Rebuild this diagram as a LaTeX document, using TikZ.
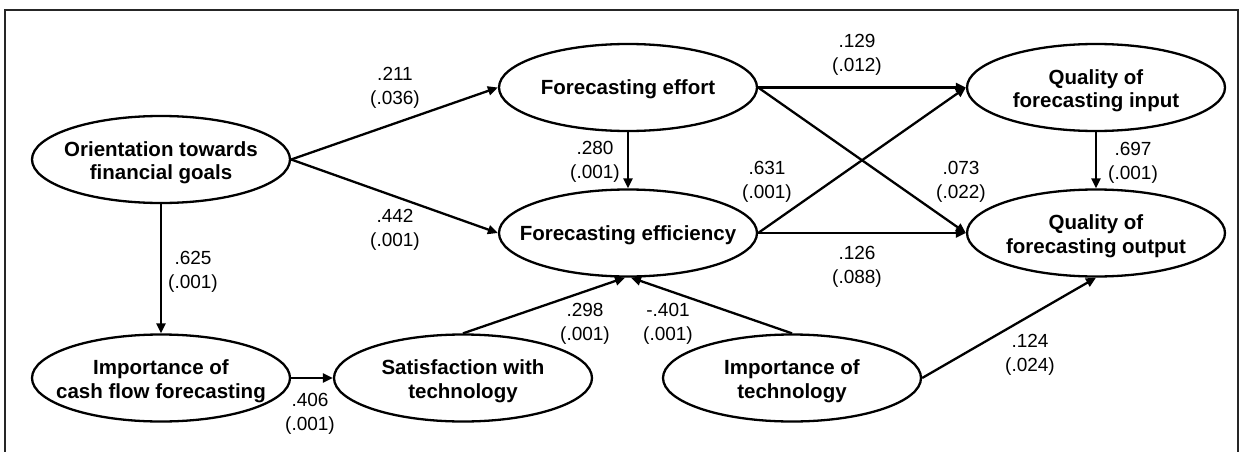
\documentclass[tikz,border=0pt]{standalone}
\usepackage{fontspec}
\setmainfont{Liberation Sans}
\usetikzlibrary{shapes.geometric,arrows.meta}
\begin{document}
\begin{tikzpicture}[x=1pt,y=-1pt,
  construct/.style={ellipse,draw,line width=2.3pt,minimum width=258pt,minimum height=87pt,
    inner sep=0pt},
  ctext/.style={align=center,inner sep=0pt,font=\fontsize{20.5}{23.5}\selectfont\bfseries},
  path/.style={line width=2.3pt,-{Triangle[length=10pt,width=9pt]}},
  coef/.style={align=center,inner sep=0pt,font=\fontsize{19}{24.5}\selectfont}]
\useasboundingbox (0,0) rectangle (1244,452);
% open frame around the model
\draw[line width=1.1pt,black!85] (5,452) -- (5,10) -- (1238,10) -- (1238,452);

% constructs (fixed-size ellipses, labels set on top)
\node[construct] (ori) at (161,159.5) {};
\node[construct] (eff) at (628,87.5) {};
\node[construct] (inp) at (1096,87.5) {};
\node[construct] (ecy) at (628,233) {};
\node[construct] (out) at (1096,233) {};
\node[construct] (cfl) at (161,378) {};
\node[construct] (sat) at (463,378) {};
\node[construct] (tec) at (792,378) {};

\node[ctext] (ori-t) at ([yshift=-3pt]ori.center) {Orientation towards\\financial goals};
\node[ctext] (eff-t) at ([yshift=-2pt]eff.center) {Forecasting effort};
\node[ctext] (inp-t) at ([yshift=-3pt]inp.center) {Quality of\\forecasting input};
\node[ctext] (ecy-t) at ([yshift=-2pt]ecy.center) {Forecasting efficiency};
\node[ctext] (out-t) at ([yshift=-3pt]out.center) {Quality of\\forecasting output};
\node[ctext] (cfl-t) at ([yshift=-3pt]cfl.center) {Importance of\\cash flow forecasting};
\node[ctext] (sat-t) at ([yshift=-3pt]sat.center) {Satisfaction with\\technology};
\node[ctext] (tec-t) at ([yshift=-3pt]tec.center) {Importance of\\technology};

% structural paths
\draw[path] (ori.east) -- (eff.west);
\draw[path] (ori.east) -- (ecy.west);
\draw[path] (ori.south) -- (cfl.north);
\draw[path] (eff.south) -- (ecy.north);
\draw[path] (eff.east) -- (inp.west);
\draw[path] (eff.east) -- (out.west);
\draw[path] (ecy.east) -- (inp.west);
\draw[path] (ecy.east) -- (out.west);
\draw[path] (inp.south) -- (out.north);
\draw[path] (cfl.east) -- (sat.west);
\draw[path] (sat.north) -- ([xshift=-3pt]ecy.south);
\draw[path] (tec.north) -- ([xshift=3pt]ecy.south);
\draw[path] (tec.east) -- (out.south);

% path coefficients (p-values)
\node[coef] (c1) at (395,88) {.211\\(.036)};
\node[coef] (c2) at (395,230) {.442\\(.001)};
\node[coef] (c3) at (193,272) {.625\\(.001)};
\node[coef] (c4) at (595,162) {.280\\(.001)};
\node[coef] (c5) at (767,182) {.631\\(.001)};
\node[coef] (c6) at (857,55) {.129\\(.012)};
\node[coef] (c7) at (961,182) {.073\\(.022)};
\node[coef] (c8) at (1133,163) {.697\\(.001)};
\node[coef] (c9) at (857,267) {.126\\(.088)};
\node[coef] (c10) at (1030,355) {.124\\(.024)};
\node[coef] (c11) at (585,324) {.298\\(.001)};
\node[coef] (c12) at (668,324) {-.401\\(.001)};
\node[coef] (c13) at (310,414) {.406\\(.001)};
\end{tikzpicture}
\end{document}
